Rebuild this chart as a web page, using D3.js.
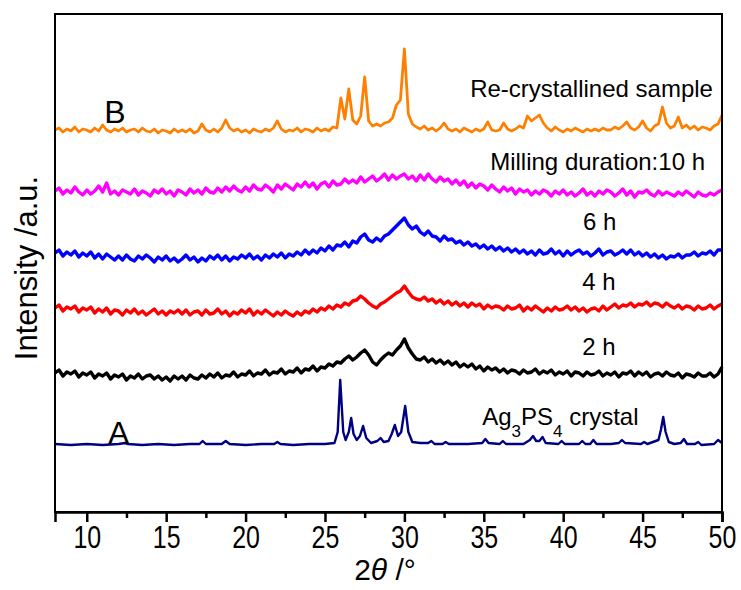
<!DOCTYPE html>
<html>
<head>
<meta charset="utf-8">
<script src="https://cdn.jsdelivr.net/npm/d3@7"></script>
<style>
  body { margin: 0; background: #fff; }
  text { font-family: "Liberation Sans", Arial, sans-serif; fill: #000; }
</style>
</head>
<body>
<svg id="chart"></svg>
<script>
let width = 741;
let height = 590;
let margin = ({top: 14, right: 19, bottom: 78, left: 55});

// scans sampled every 0.25 deg from 8 to 50 (2theta)
const scanStart = 8, scanStep = 0.25;

const recrystallised = [
  382,384,380,383, 381,385,380,383, 382,380,384,381, 387,382,380,383,
  381,384,380,382, 383,380,384,381, 380,383,379,382, 381,379,383,380,
  382,380,383,379, 381,388,382,380, 383,380,384,392, 384,381,383,380,
  382,379,383,381, 380,383,381,384, 391,383,380,382, 381,384,380,383,
  382,380,384,381, 383,381,385,384, 414,393,423,392, 388,396,435,391,
  386,388,386,389, 390,394,407,412, 463,398,388,385, 383,386,382,384,
  381,384,389,383, 381,383,380,384, 382,380,383,381, 383,390,382,381,
  382,389,383,381, 383,386,384,396, 391,394,397,389, 384,381,385,382,
  380,383,381,384, 382,380,383,381, 383,381,384,382, 382,385,383,386,
  390,384,382,385, 391,384,381,386, 388,405,389,384, 386,395,384,387,
  383,386,382,385, 384,382,386,388, 397
];

const milled10h = [
  321,324,318,322, 319,325,320,317, 322,318,321,326, 320,329,318,321,
  317,322,320,318, 323,317,321,319, 316,322,319,323, 318,321,316,322,
  320,317,323,319, 322,318,324,320, 319,324,320,325, 321,326,322,320,
  325,321,327,323, 322,327,324,320, 327,323,328,325, 322,328,325,330,
  325,329,323,328, 330,325,331,327, 328,333,329,332, 329,335,330,333,
  336,331,334,338, 332,337,333,336, 338,333,336,331, 337,332,338,333,
  330,335,331,333, 328,332,327,331, 325,329,324,328, 326,322,327,323,
  320,325,321,324, 318,323,320,322, 317,321,318,322, 320,316,321,318,
  322,317,320,316, 319,323,317,320, 316,321,318,322, 320,316,319,323,
  317,321,315,320, 319,322,318,316, 321,317,320,318, 316,320,317,321,
  318,315,320,317, 316,319,317,320, 322
];

const milled6h = [
  259,262,256,260, 257,261,255,259, 256,260,254,258, 253,258,255,252,
  256,252,257,253, 251,256,253,257, 254,250,255,252, 256,251,254,250,
  253,257,252,255, 250,254,251,256, 253,257,252,256, 251,255,253,257,
  254,258,253,256, 252,257,254,258, 255,259,254,258, 256,260,257,262,
  258,262,259,264, 261,266,262,267, 266,270,265,271, 269,275,278,272,
  270,274,271,276, 278,282,286,290, 294,287,283,286, 280,277,281,276,
  275,271,276,272, 273,269,271,267, 270,266,268,264, 267,263,266,262,
  265,261,264,260, 263,259,262,258, 261,257,262,258, 259,263,258,261,
  256,261,257,260, 262,258,260,256, 259,263,257,260, 261,257,259,262,
  258,262,257,260, 256,259,255,258, 254,257,253,256, 255,258,254,257,
  257,260,256,259, 258,261,257,262, 262
];

const milled4h = [
  204,207,201,205, 203,206,200,204, 202,205,199,203, 200,204,198,202,
  201,197,202,199, 203,198,201,197, 200,203,198,201, 197,201,199,202,
  198,202,197,200, 201,197,202,198, 199,203,198,201, 196,200,198,202,
  199,203,197,201, 198,202,199,196, 200,197,201,198, 196,200,197,201,
  199,203,200,204, 202,206,203,207, 205,209,207,211, 212,216,213,209,
  206,204,208,210, 213,216,219,221, 226,220,215,213, 212,215,211,213,
  209,212,208,211, 207,210,206,209, 205,209,206,208, 203,207,204,206,
  205,202,206,203, 204,207,201,205, 202,206,203,200, 204,201,205,202,
  203,206,202,205, 201,204,200,203, 204,201,206,202, 205,208,204,207,
  206,209,205,208, 207,210,206,209, 208,205,209,206, 204,207,203,206,
  205,202,206,203, 204,207,203,206, 208
];

const milled2h = [
  139,142,136,140, 138,141,135,139, 137,140,134,138, 136,139,133,137,
  135,138,132,136, 134,138,133,136, 137,133,136,132, 135,131,136,133,
  136,132,137,134, 133,137,134,138, 135,139,134,137, 136,140,135,138,
  137,141,136,139, 138,142,137,140, 139,143,138,141, 140,144,139,143,
  142,146,141,145, 144,148,146,150, 149,153,156,152, 155,159,162,157,
  150,147,152,156, 159,157,162,166, 173,164,158,153, 152,155,150,153,
  149,152,148,151, 147,150,145,148, 145,148,143,146, 141,145,142,144,
  140,143,139,142, 141,138,142,139, 140,143,138,141, 139,142,137,140,
  138,141,136,140, 139,136,140,137, 138,141,136,139, 137,140,135,139,
  138,141,136,140, 137,140,135,138, 139,136,140,137, 136,139,134,138,
  137,135,139,136, 136,139,135,138, 145
];

// Ag3PS4 reference crystal pattern: [2theta, intensity]
const crystal = [
  [8,68],[9,67],[10,68],[11,67],[12,68],[12.4,69],[12.6,68],[13.5,67],[14.5,68],[15.5,67],
  [16.5,68],[17.1,68],[17.3,71],[17.5,68],[18.5,68],[18.75,71],[19,68],[20,67],[21,68],
  [21.8,68],[22.0,70],[22.2,68],[23,67],[24,68],[25,68],[25.6,69],[25.8,80],[25.96,132],
  [26.15,80],[26.3,72],[26.5,80],[26.65,94],[26.8,78],[27.0,72],[27.2,76],[27.4,86],
  [27.6,74],[27.9,69],[28.3,71],[28.5,74],[28.7,70],[29.0,71],[29.2,78],[29.4,87],
  [29.6,76],[29.8,80],[30.05,106],[30.25,80],[30.5,70],[31,69],[31.5,69],[31.7,71],
  [31.9,68],[32.4,68],[32.6,70],[32.8,68],[34,68],[34.9,69],[35.1,73],[35.3,69],[36,68],
  [36.2,71],[36.4,68],[37.5,68],[37.9,72],[38.1,76],[38.3,71],[38.5,71],[38.7,75],
  [38.9,69],[39.7,68],[39.9,71],[40.1,68],[41,68],[41.2,71],[41.4,68],[41.7,68],
  [41.9,72],[42.1,68],[43,68],[43.5,69],[43.7,72],[43.9,69],[44.9,68],[45.1,70],
  [45.3,68],[46.0,72],[46.15,82],[46.3,95],[46.45,80],[46.65,70],[47.0,68],[47.4,69],
  [47.6,73],[47.8,68],[48.3,68],[48.5,70],[48.7,67],[49.5,68],[49.75,72],[50,69]
];

const xTicks = [10, 15, 20, 25, 30, 35, 40, 45, 50];
const xMinorTicks = [12.5, 17.5, 22.5, 27.5, 32.5, 37.5, 42.5, 47.5];

const x = d3.scaleLinear()
    .domain([8, 50])
    .range([margin.left, width - margin.right]);

const y = d3.scaleLinear()
    .domain([0, 498])
    .range([height - margin.bottom, margin.top]);

const svg = d3.select("#chart")
    .attr("width", width)
    .attr("height", height)
    .attr("viewBox", [0, 0, width, height]);

const toPoints = arr => arr.map((v, i) => [scanStart + i * scanStep, v]);

const line = d3.line()
    .x(d => x(d[0]))
    .y(d => y(d[1]));

const series = [
  {pts: toPoints(milled2h), color: "#000000", w: 3.4},
  {pts: toPoints(milled4h), color: "#ff0000", w: 3.4},
  {pts: toPoints(milled6h), color: "#0000ff", w: 3.4},
  {pts: toPoints(milled10h), color: "#ff00ff", w: 3.4},
  {pts: toPoints(recrystallised), color: "#ff8000", w: 2.8},
  {pts: crystal, color: "#000080", w: 2.4}
];

svg.append("g")
    .selectAll("path")
    .data(series)
    .join("path")
    .attr("fill", "none")
    .attr("stroke", d => d.color)
    .attr("stroke-width", d => d.w)
    .attr("stroke-linejoin", "round")
    .attr("d", d => line(d.pts));

// frame
svg.append("rect")
    .attr("x", margin.left)
    .attr("y", margin.top)
    .attr("width", width - margin.left - margin.right)
    .attr("height", height - margin.top - margin.bottom)
    .attr("fill", "none")
    .attr("stroke", "#000")
    .attr("stroke-width", 2);

// bottom axis
const gx = svg.append("g")
    .attr("transform", `translate(0,${height - margin.bottom})`);

gx.call(d3.axisBottom(x).tickValues(xMinorTicks).tickSize(6).tickFormat(""))
    .call(g => g.select(".domain").remove())
    .call(g => g.selectAll("line").attr("stroke-width", 2.5));

const gMajor = svg.append("g")
    .attr("transform", `translate(0,${height - margin.bottom})`)
    .call(d3.axisBottom(x).tickValues(xTicks).tickSize(10).tickPadding(3).tickFormat(d3.format("d")));

gMajor.select(".domain").attr("stroke-width", 2.5);
gMajor.selectAll("line").attr("stroke-width", 2.5);
gMajor.selectAll("text")
    .attr("transform", "scale(0.78,1)")
    .style("font-size", "32px")
    .attr("fill", "#000");

// axis titles
const xTitle = svg.append("text")
    .attr("x", 385)
    .attr("y", 580)
    .attr("text-anchor", "middle")
    .style("font-size", "30px");
xTitle.append("tspan").text("2");
xTitle.append("tspan").style("font-style", "italic").text("θ");
xTitle.append("tspan").text(" /°");

svg.append("text")
    .attr("transform", "translate(37,268) rotate(-90)")
    .attr("text-anchor", "middle")
    .style("font-size", "31px")
    .text("Intensity /a.u.");

// annotations
const ann = svg.append("g").style("font-size", "24px");

ann.append("text").attr("x", x(49.43)).attr("y", y(415))
    .attr("text-anchor", "end").text("Re-crystallined sample");
ann.append("text").attr("x", x(48.93)).attr("y", y(342))
    .attr("text-anchor", "end").text("Milling duration:10 h");
ann.append("text").attr("x", x(41.25)).attr("y", y(282)).text("6 h");
ann.append("text").attr("x", x(41.2)).attr("y", y(222)).text("4 h");
ann.append("text").attr("x", x(41.2)).attr("y", y(157)).text("2 h");

const ag = ann.append("text").attr("x", x(34.9)).attr("y", y(87));
ag.append("tspan").text("Ag");
ag.append("tspan").attr("dy", 12).style("font-size", "17px").text("3");
ag.append("tspan").attr("dy", -12).text("PS");
ag.append("tspan").attr("dy", 12).style("font-size", "17px").text("4");
ag.append("tspan").attr("dy", -12).text(" crystal");

svg.append("text").attr("x", x(11.1)).attr("y", y(389))
    .style("font-size", "32px").text("B");
svg.append("text").attr("x", x(11.34)).attr("y", y(68))
    .style("font-size", "32px").text("A");
</script>
</body>
</html>
